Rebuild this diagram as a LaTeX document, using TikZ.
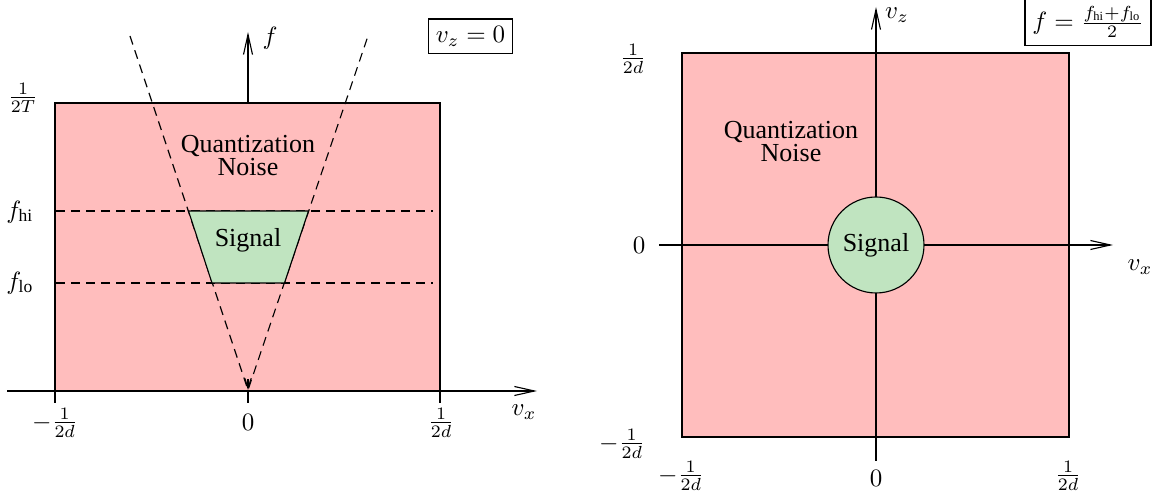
\documentclass[tikz,border=0pt]{standalone}
\usepackage{fontspec}
\setmainfont{Liberation Serif}
\usetikzlibrary{arrows.meta}
\definecolor{noise}{RGB}{255,189,189}
\definecolor{sig}{RGB}{192,228,192}
\tikzset{
  axisline/.style={line width=0.45pt,-{Straight Barb[length=8pt,width=3.6pt]}},
  plain/.style={line width=0.45pt},
  dashline/.style={line width=0.45pt,dash pattern=on 3.6pt off 2.4pt},
  region/.style={draw,fill=noise,line width=0.45pt},
  lbl/.style={inner sep=0pt},
  txt/.style={font=\fontsize{10.4pt}{9.2pt}\selectfont, align=center, inner sep=0pt},
  boxed/.style={draw, line width=0.45pt, inner sep=3pt}
}
\begin{document}
\begin{tikzpicture}[x=0.4pt,y=-0.4pt]
\useasboundingbox (0,0) rectangle (1154,498);
% ---------------- left panel ----------------
\coordinate (Lfb) at (248,403);
\coordinate (Lft) at (248,32);
\draw[axisline] (Lfb) -- (Lft);
\node[lbl, anchor=west] (flab) at (262,38) {$f$};
\draw[region] (55,103) rectangle (440,391);
\coordinate (xa0) at (7,391);
\coordinate (xa1) at (537,391);
\draw[axisline] (xa0) -- (xa1);
\coordinate (tl0) at (55,391); \coordinate (tl1) at (55,403);
\coordinate (tr0) at (440,391); \coordinate (tr1) at (440,403);
\draw[plain] (tl0) -- (tl1);
\draw[plain] (tr0) -- (tr1);
% V cone
\coordinate (V) at (248,390);
\coordinate (VA) at (130,36);
\coordinate (VB) at (368,36);
\draw[dashline] (VA) -- (V) -- (VB);
\coordinate (Vs) at (248,379);
\draw[plain,-{Straight Barb[length=4pt,width=2.6pt]}] (Vs) -- (V);
% frequency lines
\coordinate (hi0) at (56,211); \coordinate (hi1) at (433,211);
\coordinate (lo0) at (56,283); \coordinate (lo1) at (433,283);
\draw[dashline] (hi0) -- (hi1);
\draw[dashline] (lo0) -- (lo1);
% signal trapezoid
\coordinate (T1) at (188.5,211);
\coordinate (T2) at (308.5,211);
\coordinate (T3) at (284.5,283);
\coordinate (T4) at (212,283);
\draw[plain,fill=sig] (T1) -- (T2) -- (T3) -- (T4) -- cycle;
\node[txt] (lS) at (248,240) {Signal};
\node[txt] (lQ) at (248,156) {Quantization\\Noise};
% labels
\node[lbl] (lT) at (23,98) {$\frac{1}{2T}$};
\node[lbl] (lhi) at (20,212) {$f_{\mathrm{hi}}$};
\node[lbl] (llo) at (20,283) {$f_{\mathrm{lo}}$};
\node[lbl] (lm) at (55,423) {$-\frac{1}{2d}$};
\node[lbl] (l0) at (248,422) {$0$};
\node[lbl] (lp) at (441,423) {$\frac{1}{2d}$};
\node[lbl] (lvx) at (524,412) {$v_x$};
\node[boxed] (lbox) at (470.5,36.5) {$v_z=0$};
% ---------------- right panel ----------------
\draw[region] (682,53) rectangle (1069,437);
\coordinate (zb) at (876,461);
\coordinate (zt) at (876,7);
\draw[axisline] (zb) -- (zt);
\coordinate (rx0) at (659,245);
\coordinate (rx1) at (1113,245);
\draw[axisline] (rx0) -- (rx1);
\node[draw, plain, fill=sig, circle, minimum size=96*0.4pt, inner sep=0pt, txt] (rS) at (876,245) {Signal};
\node[txt] (rQ) at (791,141.5) {Quantization\\Noise};
\node[lbl] (r1) at (633,59) {$\frac{1}{2d}$};
\node[lbl] (r2) at (639,245) {$0$};
\node[lbl] (r3) at (622,444) {$-\frac{1}{2d}$};
\node[lbl] (r4) at (681,476) {$-\frac{1}{2d}$};
\node[lbl] (r5) at (876,478) {$0$};
\node[lbl] (r6) at (1068,476) {$\frac{1}{2d}$};
\node[lbl] (rvx) at (1140,267) {$v_x$};
\node[lbl] (rvz) at (897,15) {$v_z$};
\node[boxed] (rbox) at (1088,22) {$f=\frac{f_{\mathrm{hi}}+f_{\mathrm{lo}}}{2}$};
\end{tikzpicture}
\end{document}
